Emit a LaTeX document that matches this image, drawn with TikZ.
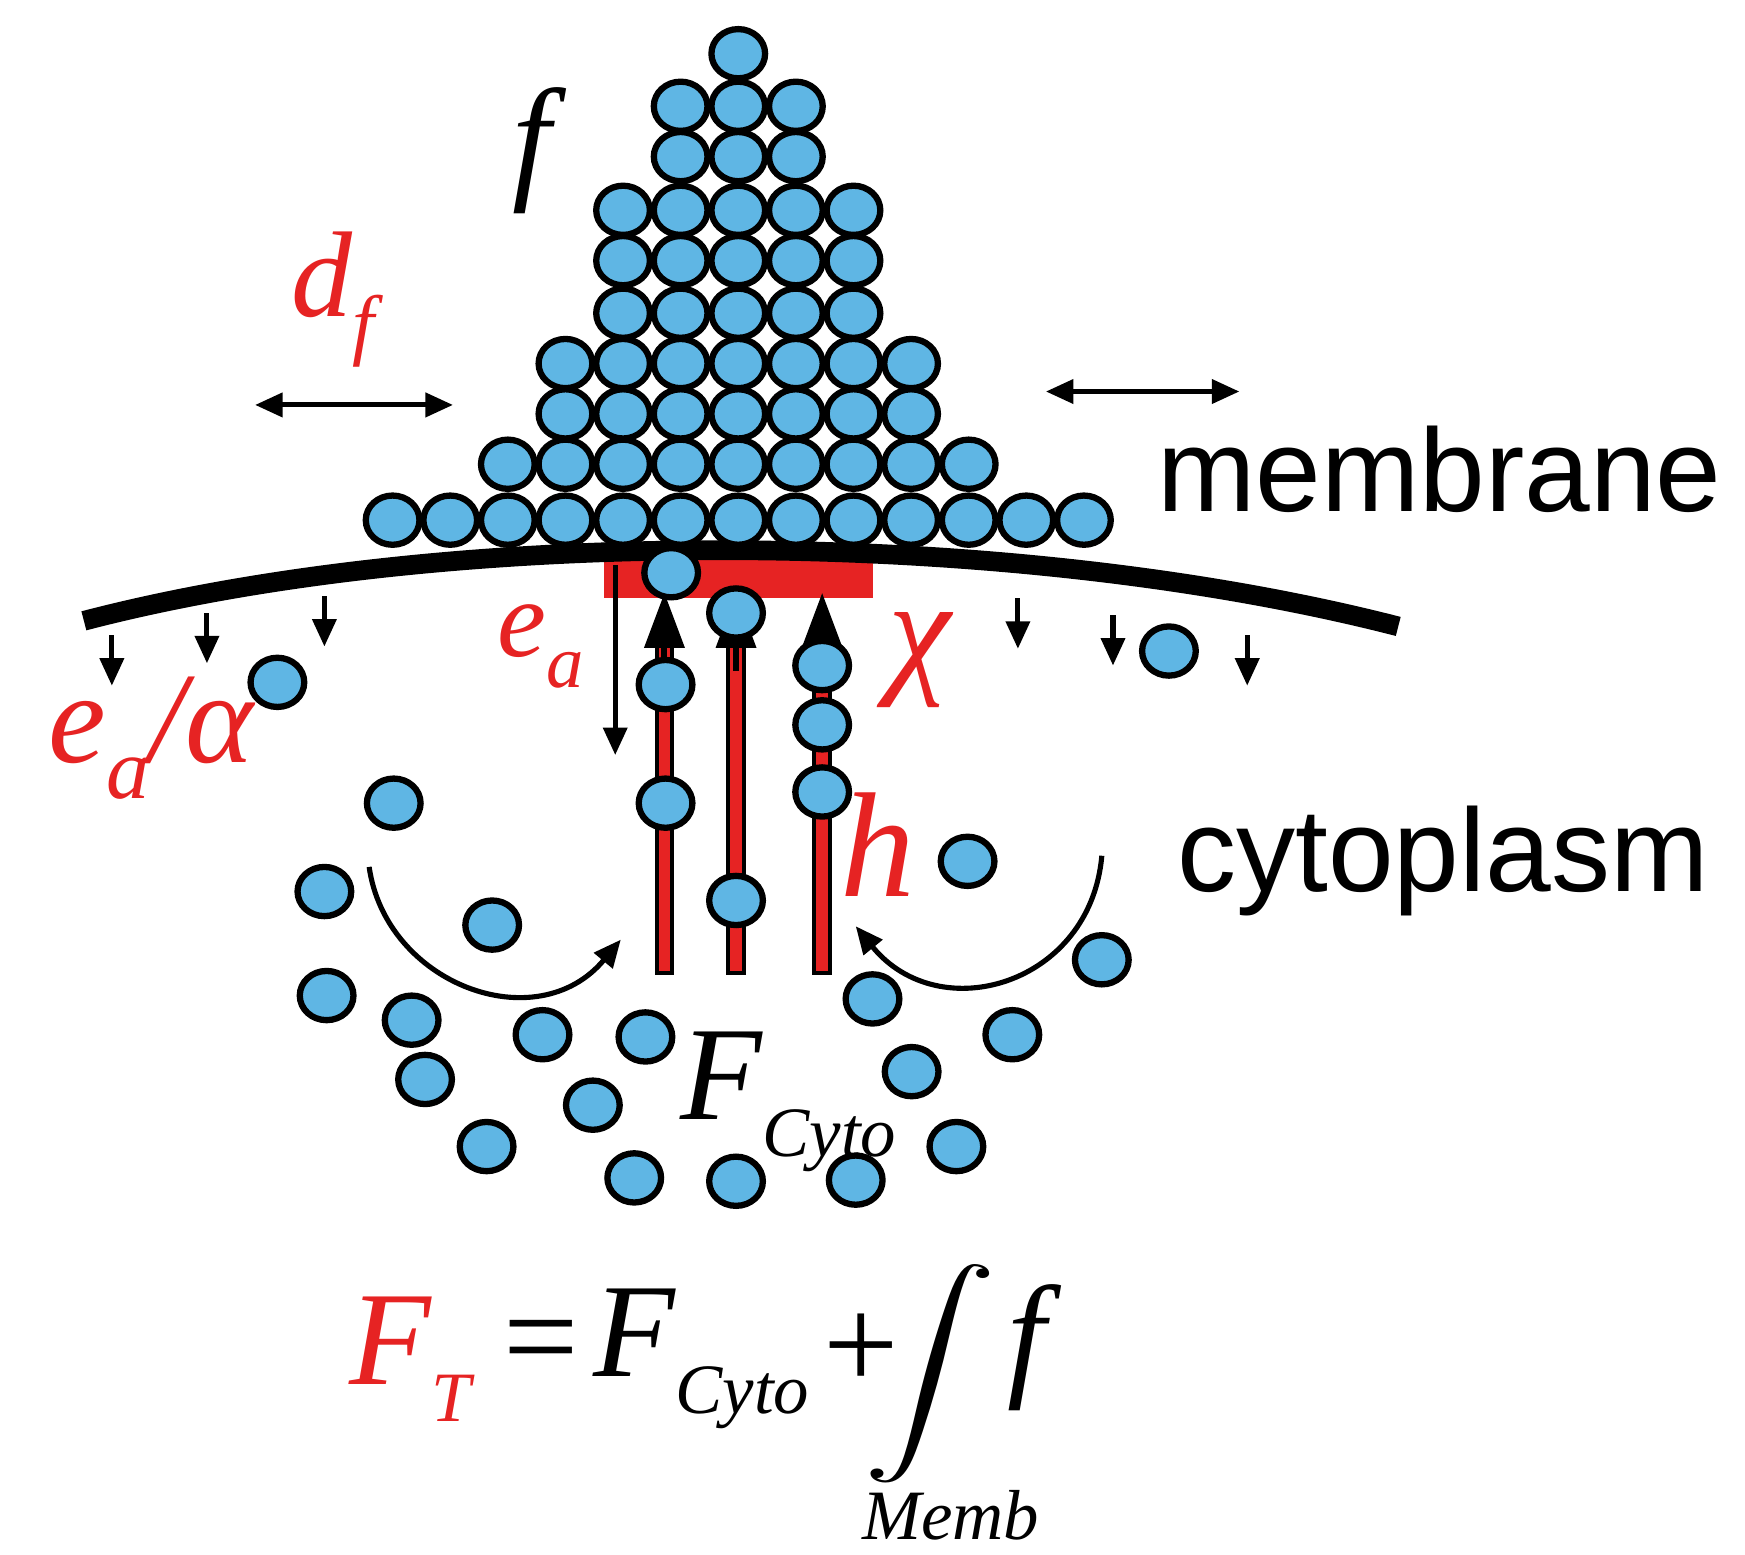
\documentclass[tikz,border=0pt]{standalone}
\usepackage{fontspec}
\setmainfont{Liberation Serif}
\newfontfamily\sans{Liberation Sans}
\usetikzlibrary{arrows.meta}
\definecolor{bead}{RGB}{95,182,228}
\definecolor{rd}{RGB}{230,35,35}
\newcommand\fs[1]{\fontsize{#1}{#1}\selectfont}
\newcommand\sbs[2]{\raisebox{-0.28em}{\fs{#1}#2}}
\begin{document}
\begin{tikzpicture}[x=0.01cm,y=-0.01cm,
 bd/.style={draw=black,line width=1.6pt,fill=bead},
 arr/.style={-{Triangle[length=7pt,width=6pt]},line width=1.3pt},
 darr/.style={{Triangle[length=7pt,width=6pt]}-{Triangle[length=7pt,width=6pt]},line width=1.3pt},
 lab/.style={inner sep=0pt,text=rd},
 it/.style={inner sep=0pt,font=\itshape},
 sl/.style={inner sep=0pt,font=\sans\fs{30}}]
\useasboundingbox (0,0) rectangle (1560,1390);
% red rectangle and rods
\fill[rd] (540,500) rectangle (780,535);
\foreach \x in {594,658,735}{\filldraw[fill=rd,draw=black,line width=1pt] (\x-7,560) rectangle (\x+7,870);}
% membrane
\draw[line width=5pt] (75,555) .. controls (400,470) and (900,470) .. (1250,560);
\foreach \x/\y in {100/568,185/548,290/533,910/535,995/550,1115/568}{\draw[arr] (\x,\y) -- (\x,\y+45);}
% pile
\foreach \r/\y/\a/\b in {0/465/-6/6,1/415/-4/4,2/370/-3/3,3/325/-3/3,4/280/-2/2,5/233/-2/2,6/188/-2/2,7/140/-1/1,8/95/-1/1,9/48/0/0}{
 \foreach \i in {\a,...,\b}{\filldraw[bd] (660+51.5*\i,\y) ellipse [x radius=24,y radius=22];}}
% arrows on rods
\foreach \x in {594,658,735}{\draw[-{Triangle[length=14pt,width=10pt]},line width=1.5pt] (\x,600) -- (\x,530);}
\draw[arr] (550,505) -- (550,675);
% beads on rods and free beads
\foreach \p in {(600,512),(658,548),(595,612),(595,718),(735,595),(735,648),(735,708),(658,805),
 (248,610),(352,718),(290,797),(440,827),(292,890),(368,912),(485,925),(577,927),(380,965),(530,988),(435,1025),(567,1053),(658,1056),(765,1055),(855,1025),(815,958),(905,925),(780,893),(985,858),(865,770),(1045,582)}{\filldraw[bd] \p ellipse [x radius=24,y radius=22];}
% curved arrows
\draw[arr] (330,775) .. controls (345,880) and (480,930) .. (555,840);
\draw[arr] (985,765) .. controls (975,880) and (840,920) .. (765,828);
% double arrows
\draw[darr] (228,362) -- (405,362);
\draw[darr] (935,350) -- (1108,350);
% labels
\node[it,font=\fs{35}\itshape] (f) at (475,135) {f};
\node[lab,font=\fs{31}\itshape] (df) at (298,268) {d\sbs{20}{f}};
\node[lab,font=\fs{28}\itshape] (ea) at (483,578) {e\sbs{19}{a}};
\node[lab,font=\fs{36}\itshape] (chi) at (822,590) {χ};
\node[lab,font=\fs{33}\itshape] (ealpha) at (135,660) {e\sbs{22}{a}/α};
\node[lab,font=\fs{38}\itshape] (h) at (785,755) {h};
\node[sl] (mem) at (1287,420) {membrane};
\node[sl] (cyt) at (1290,770) {cytoplasm};
\node[it,font=\fs{34}\itshape] (fc) at (705,985) {F\sbs{18}{Cyto}};
\node[it,font=\fs{34}\itshape,text=rd] (ft) at (367,1215) {F\sbs{18}{T}};
\node[inner sep=0pt,font=\fs{34}] (eq) at (484,1208) {=};
\node[it,font=\fs{34}\itshape] (fc2) at (627,1215) {F\sbs{18}{Cyto}};
\node[inner sep=0pt,font=\fs{34}] (plus) at (770,1208) {+};
\node[inner sep=0pt] (int) at (832,1228) {\scalebox{3.4}[2.5]{$\displaystyle\int$}};
\node[it,font=\fs{35}\itshape] (f2) at (918,1205) {f};
\node[it,font=\fs{18}\itshape] (memb) at (850,1355) {Memb};
\end{tikzpicture}
\end{document}
